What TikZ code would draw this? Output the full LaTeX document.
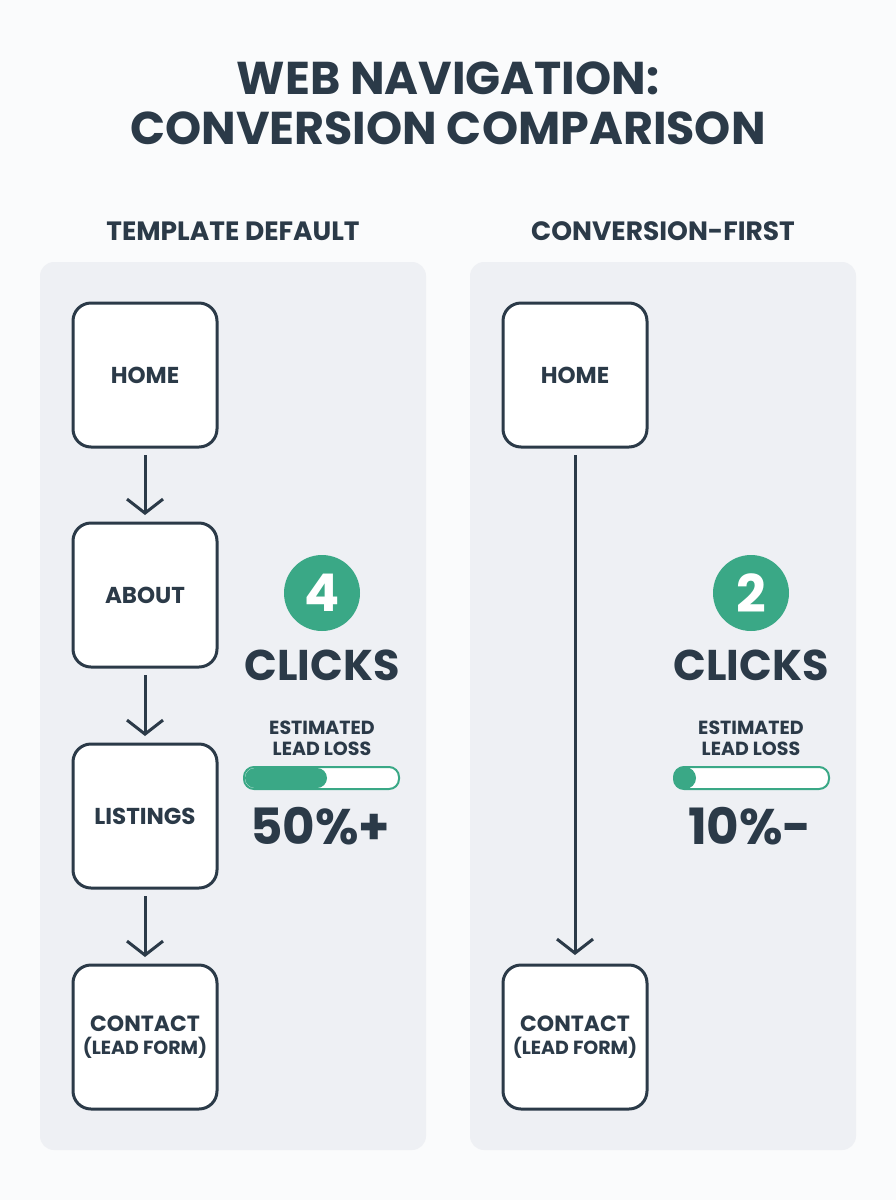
\documentclass[tikz,border=0pt]{standalone}
\usepackage{fontspec}
\setmainfont{Poppins}
\usetikzlibrary{arrows.meta}
\definecolor{ink}{HTML}{2B3A48}
\definecolor{panel}{HTML}{EEF0F4}
\definecolor{accent}{HTML}{3AA886}
\definecolor{bg}{HTML}{FAFBFC}
\newcommand{\fs}[1]{\fontsize{#1}{#1}\selectfont\bfseries}
\tikzset{
  page box/.style={fill=panel, draw=none, rounded corners=14pt},
  navbox/.style={draw=ink, line width=3pt, fill=white, rounded corners=18pt,
    minimum width=144pt, minimum height=144pt, outer sep=0pt, text=ink,
    align=center, inner sep=0pt},
  navarrow/.style={draw=ink, line width=3pt,
    -{Straight Barb[length=14pt,width=36pt,line width=3pt]}},
  badge/.style={circle, fill=accent, minimum size=76pt, inner sep=0pt, text=white},
  txt/.style={text=ink, inner sep=0pt, align=center},
  bar/.style={draw=accent, line width=2pt, fill=white, rounded corners=10pt},
}
\begin{document}
\begin{tikzpicture}[x=1pt,y=-1pt]
\useasboundingbox (0,0) rectangle (896,1200);
\fill[bg] (0,0) rectangle (896,1200);
% title
\node[txt] (t1) at (448,78) {\fs{46}WEB NAVIGATION:};
\node[txt] (t2) at (448,128) {\fs{46}CONVERSION COMPARISON};
\node[txt] (h1) at (233,231) {\fs{26.5}TEMPLATE DEFAULT};
\node[txt] (h2) at (663,231) {\fs{26.5}CONVERSION-FIRST};
% panels
\path[page box] (40,262) rectangle (426,1150);
\path[page box] (470,262) rectangle (856,1150);
% left flow
\node[navbox] (lhome) at (145,375) {\fs{23}HOME};
\node[navbox] (labout) at (145,595) {\fs{23}ABOUT};
\node[navbox] (llist) at (145,816) {\fs{23}LISTINGS};
\node[navbox] (lcontact) at (145,1037) {\fs{22}CONTACT\\[5pt]\fs{19}(LEAD FORM)};
\draw[navarrow, shorten <=8pt, shorten >=8pt] (lhome) -- (labout);
\draw[navarrow, shorten <=8pt, shorten >=8pt] (labout) -- (llist);
\draw[navarrow, shorten <=8pt, shorten >=8pt] (llist) -- (lcontact);
% right flow
\node[navbox] (rhome) at (575,375) {\fs{23}HOME};
\node[navbox] (rcontact) at (575,1037) {\fs{22}CONTACT\\[5pt]\fs{19}(LEAD FORM)};
\draw[navarrow, shorten <=8pt, shorten >=10pt] (rhome) -- (rcontact);
% left stats
\node[badge] (lbadge) at (322,593) {\fs{52}4};
\node[txt] (lclicks) at (322,665) {\fs{43}CLICKS};
\node[txt] (lest1) at (322,728) {\fs{19}ESTIMATED};
\node[txt] (lest2) at (322,749) {\fs{19}LEAD LOSS};
\path[bar] (244,767) rectangle (399,789);
\fill[accent, rounded corners=10pt] (245,768) rectangle (327,788);
\node[txt] (lpct) at (320,826) {\fs{50}50\%+};
% right stats
\node[badge] (rbadge) at (751,593) {\fs{52}2};
\node[txt] (rclicks) at (751,665) {\fs{43}CLICKS};
\node[txt] (rest1) at (751,728) {\fs{19}ESTIMATED};
\node[txt] (rest2) at (751,749) {\fs{19}LEAD LOSS};
\path[bar] (674,767) rectangle (829,789);
\fill[accent] (685,778) circle (11pt);
\node[txt] (rpct) at (750,826) {\fs{50}10\%-};
\end{tikzpicture}
\end{document}
